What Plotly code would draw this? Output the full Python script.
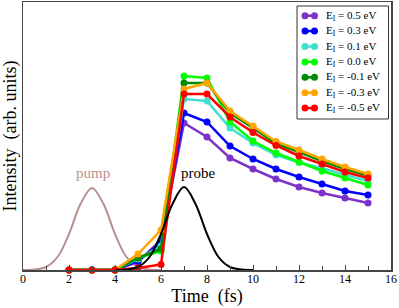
import plotly.graph_objects as go

# ---- data ----
time = [2, 3, 4, 5, 6, 7, 8, 9, 10, 11, 12, 13, 14, 15]

labels = ["0.5", "0.3", "0.1", "0.0", "-0.1", "-0.3", "-0.5"]
colors = ["#7d32c8", "#0000ff", "#40e0d0", "#00ff00", "#008b00", "#ffa500", "#ff0000"]

s_p05 = [0, 0, 0, 0.08, 0.30, 1.47, 1.33, 1.12, 1.01, 0.91, 0.83, 0.77, 0.72, 0.67]
s_p03 = [0, 0, 0, 0.09, 0.27, 1.57, 1.48, 1.24, 1.11, 1.01, 0.93, 0.86, 0.79, 0.75]
s_p01 = [0, 0, 0, 0.11, 0.24, 1.71, 1.69, 1.42, 1.27, 1.15, 1.075, 1.02, 0.95, 0.89]
s_p00 = [0, 0, 0, 0.12, 0.19, 1.94, 1.92, 1.48, 1.29, 1.17, 1.08, 0.99, 0.92, 0.85]
s_m01 = [0, 0, 0, 0.12, 0.21, 1.87, 1.87, 1.57, 1.42, 1.26, 1.18, 1.09, 1.01, 0.945]
s_m03 = [0, 0, 0, 0.16, 0.40, 1.81, 1.87, 1.59, 1.44, 1.285, 1.20, 1.11, 1.03, 0.96]
s_m05 = [0, 0, 0, 0.02, 0.055, 1.76, 1.76, 1.53, 1.375, 1.245, 1.14, 1.06, 0.98, 0.92]
series = [s_p05, s_p03, s_p01, s_p00, s_m01, s_m03, s_m05]

pump_t = [0, 0.5, 1, 1.5, 2, 2.5, 3, 3.5, 4, 4.5, 5, 5.5, 6]
pump_y = [0.0, 0.005, 0.03, 0.13, 0.36, 0.66, 0.82, 0.66, 0.36, 0.13, 0.03, 0.005, 0.0]
probe_t = [4, 4.5, 5, 5.5, 6, 6.5, 7, 7.5, 8, 8.5, 9, 9.5, 10]
probe_y = [0.0, 0.005, 0.03, 0.13, 0.36, 0.66, 0.83, 0.66, 0.36, 0.13, 0.03, 0.005, 0.0]

x_ticks = [0, 2, 4, 6, 8, 10, 12, 14, 16]

FONT = "Liberation Serif, Times New Roman, serif"

W, H = 399, 308
ML, MR, MT, MB = 23, 8, 2, 38

fig = go.Figure()

fig.add_trace(go.Scatter(x=pump_t, y=pump_y, mode="lines", line=dict(color="#bc8f8f", width=2, shape="spline"),
                         showlegend=False, hoverinfo="skip", cliponaxis=False))

for lab, col, ys in zip(labels, colors, series):
    fig.add_trace(go.Scatter(
        x=time, y=ys, mode="lines+markers",
        name=f"E<sub>I</sub> = {lab} eV",
        line=dict(color=col, width=2.5),
        marker=dict(color=col, size=7),
        cliponaxis=False, showlegend=False,
    ))

fig.add_trace(go.Scatter(x=probe_t, y=probe_y, mode="lines", line=dict(color="black", width=2, shape="spline"),
                         showlegend=False, hoverinfo="skip", cliponaxis=False))

fig.add_annotation(x=3.05, y=0.97, text="pump", showarrow=False,
                   font=dict(family=FONT, size=15, color="#bc8f8f"))
fig.add_annotation(x=7.6, y=0.97, text="probe", showarrow=False,
                   font=dict(family=FONT, size=15, color="black"))

# ---- legend box (drawn on an overlay axis in pixel units) ----
lx0, lx1, ly0, ly1 = 297, 388.5, 6, 119
row0, row_gap = 15.7, 15.4
fig.add_shape(type="rect", xref="x2", yref="y2", x0=lx0, x1=lx1, y0=ly0, y1=ly1,
              line=dict(color="#333", width=1), fillcolor="white", layer="below")
for i, (lab, col) in enumerate(zip(labels, colors)):
    yy = row0 + i * row_gap
    fig.add_trace(go.Scatter(x=[305, 314.5], y=[yy, yy], xaxis="x2", yaxis="y2",
                             mode="lines+markers", line=dict(color=col, width=2.5),
                             marker=dict(color=col, size=7), showlegend=False,
                             hoverinfo="skip", cliponaxis=False))
    fig.add_annotation(xref="x2", yref="y2", x=324, y=yy, xanchor="left", yanchor="middle",
                       text=f"E<sub>I</sub> = {lab} eV", showarrow=False,
                       font=dict(family=FONT, size=11, color="black"))

fig.update_layout(
    width=W, height=H,
    margin=dict(l=ML, r=MR, t=MT, b=MB, autoexpand=False),
    paper_bgcolor="white", plot_bgcolor="white",
    font=dict(family=FONT, size=12, color="black"),
    showlegend=False,
    xaxis=dict(
        range=[0, 16], tickvals=x_ticks, ticks="inside", ticklen=5, tickcolor="#444",
        minor=dict(dtick=1, ticks="inside", ticklen=4, tickcolor="#444"),
        showline=True, linecolor="#444", linewidth=1.5, mirror=True,
        showgrid=False, zeroline=False, automargin=False,
        tickfont=dict(family=FONT, size=12), ticklabelstandoff=-3,
        title=dict(text="Time  (fs)", font=dict(family=FONT, size=18), standoff=0),
    ),
    yaxis=dict(
        range=[0, 2.68], showticklabels=False, ticks="",
        showline=True, linecolor="#444", linewidth=1.5, mirror=True,
        showgrid=False, zeroline=False, automargin=False,
        title=dict(text="Intensity  (arb. units)", font=dict(family=FONT, size=18), standoff=4),
    ),
    xaxis2=dict(range=[ML, W - MR], overlaying="x", visible=False, fixedrange=True),
    yaxis2=dict(range=[H - MB, MT], overlaying="y", visible=False, fixedrange=True),
)

fig.write_html("out.html", config={"displayModeBar": False, "staticPlot": True},
               post_script="document.body.style.margin='0';document.body.style.padding='0';")
